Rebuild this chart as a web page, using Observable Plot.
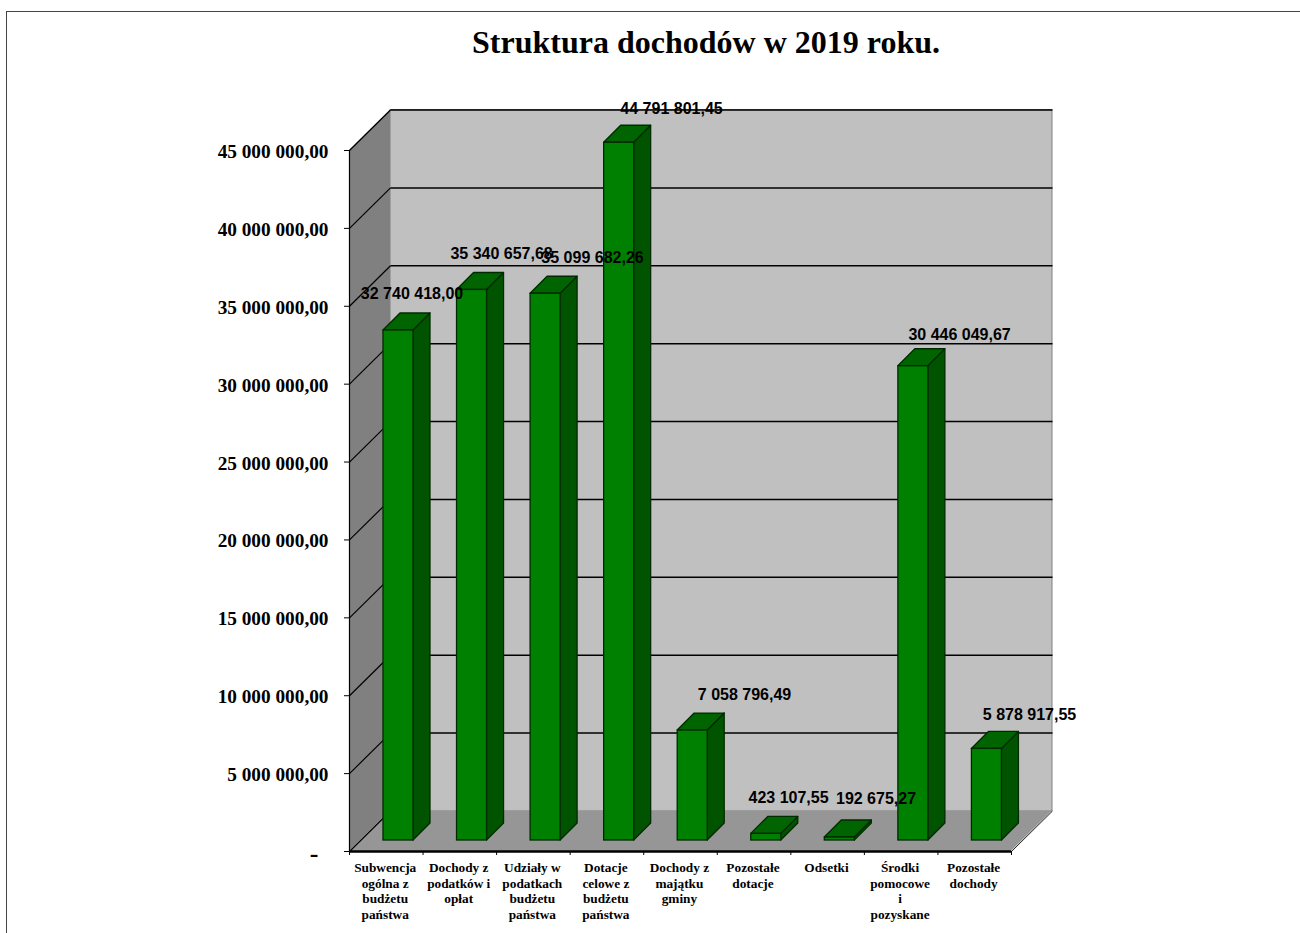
<!DOCTYPE html>
<html lang="pl">
<head>
<meta charset="utf-8">
<script src="https://cdn.jsdelivr.net/npm/d3@7"></script>
<script src="https://cdn.jsdelivr.net/npm/@observablehq/plot@0.6"></script>
<style>
html,body{margin:0;padding:0;background:#fff;width:1300px;height:933px;overflow:hidden}
#frame{position:absolute;left:6px;top:11px;right:-5px;bottom:-5px;border:1.5px solid #444;pointer-events:none}
#title{height:70px;box-sizing:border-box;padding-left:112px;padding-top:22px;text-align:center;font:bold 32px/40px "Liberation Serif",serif;color:#000;white-space:nowrap}
#chart svg{display:block}
</style>
</head>
<body>
<div id="frame"></div>
<div id="title">Struktura dochodów w 2019 roku.</div>
<div id="chart"></div>
<script>
// Chart data
const categories = [
  "Subwencja\nogólna z\nbudżetu\npaństwa",
  "Dochody z\npodatków i\nopłat",
  "Udziały w\npodatkach\nbudżetu\npaństwa",
  "Dotacje\ncelowe z\nbudżetu\npaństwa",
  "Dochody z\nmajątku\ngminy",
  "Pozostałe\ndotacje",
  "Odsetki",
  "Środki\npomocowe\ni\npozyskane",
  "Pozostałe\ndochody"
];
const values = [32740418.00, 35340657.68, 35099682.26, 44791801.45, 7058796.49, 423107.55, 192675.27, 30446049.67, 5878917.55];
const yTicks = [0, 5e6, 10e6, 15e6, 20e6, 25e6, 30e6, 35e6, 40e6, 45e6];

// Hand-placed data label offsets, in scale units (category widths, value units)
const labelShiftX = [0.85, 1.067, 1.304, 1.378, 1.37, 0.969, 1.158, 1.294, 1.245];
const labelLift = [3.08e6, 3.04e6, 3.03e6, 2.85e6, 3.02e6, 3.04e6, 3.21e6, 2.73e6, 2.91e6];

// 3D projection, in scale units
const wallX = 0.5575, wallY = 2.6e6;
const barLeft = 0.462, barW = 0.408, barBase = 0.706e6, barDepthX = 0.231, barDepthY = 1.09e6;

const fmt = d3.formatLocale({decimal: ",", thousands: " ", grouping: [3]}).format(",.2f");
const idx = d3.range(categories.length);
const n = categories.length;

// A closed parallelogram is drawn as an area between two edges
const backWall = [{x1: wallX, y1: wallY, x2: n + wallX, y2: wallY}, {x1: wallX, y1: 45e6 + wallY, x2: n + wallX, y2: 45e6 + wallY}];
const leftWall = [{x1: 0, y1: 0, x2: 0, y2: 45e6}, {x1: wallX, y1: wallY, x2: wallX, y2: 45e6 + wallY}];
const floor = [{x1: 0, y1: 0, x2: n, y2: 0}, {x1: wallX, y1: wallY, x2: n + wallX, y2: wallY}];
const areaOpts = {x1: "x1", y1: "y1", x2: "x2", y2: "y2"};

const sides = idx.flatMap((i) => {
  const x = i + barLeft + barW, top = values[i] + barBase;
  return [
    {i, x1: x, y1: barBase, x2: x, y2: top},
    {i, x1: x + barDepthX, y1: barBase + barDepthY, x2: x + barDepthX, y2: top + barDepthY}
  ];
});
const tops = idx.flatMap((i) => {
  const x = i + barLeft, top = values[i] + barBase;
  return [
    {i, x1: x, y1: top, x2: x + barW, y2: top},
    {i, x1: x + barDepthX, y1: top + barDepthY, x2: x + barW + barDepthX, y2: top + barDepthY}
  ];
});
const grid = yTicks.filter((d) => d > 0);
const barStroke = "#002a00";

const serif = "Liberation Serif";
const chart = Plot.plot({
  width: 1300,
  height: 863,
  marginLeft: 349,
  marginRight: 289,
  marginTop: 80,
  marginBottom: 82,
  style: {background: "#fff", color: "#000"},
  x: {type: "linear", domain: [0, n], axis: null},
  y: {type: "linear", domain: [0, 45e6], axis: null},
  marks: [
    Plot.area(backWall, {...areaOpts, fill: "#c0c0c0", stroke: "#808080", strokeWidth: 1}),
    Plot.area(leftWall, {...areaOpts, fill: "#808080"}),
    Plot.area(floor, {...areaOpts, fill: "#969696"}),
    Plot.link(grid, {x1: wallX, x2: n + wallX, y1: (d) => d + wallY, y2: (d) => d + wallY, stroke: "#000", strokeWidth: 1.5}),
    Plot.link(yTicks, {x1: 0, x2: wallX, y1: (d) => d, y2: (d) => d + wallY, stroke: "#000", strokeWidth: 1.2}),
    Plot.link([0], {x1: n, x2: n + wallX, y1: 0, y2: wallY, stroke: "#222", strokeWidth: 1}),
    Plot.ruleX([0], {y1: 0, y2: 45e6, stroke: "#000", strokeWidth: 1.2}),
    Plot.ruleY([0], {x1: 0, x2: n, stroke: "#000", strokeWidth: 2.4}),
    Plot.area(sides, {...areaOpts, z: "i", fill: "#005400", stroke: barStroke, strokeWidth: 1.3}),
    Plot.area(tops, {...areaOpts, z: "i", fill: "#006400", stroke: barStroke, strokeWidth: 1.3}),
    Plot.rect(idx, {
      x1: (i) => i + barLeft,
      x2: (i) => i + barLeft + barW,
      y1: barBase,
      y2: (i) => values[i] + barBase,
      fill: "#008000",
      stroke: barStroke,
      strokeWidth: 1.3
    }),
    Plot.axisY({
      ticks: yTicks,
      tickSize: 5,
      tickPadding: 16,
      tickFormat: (d) => (d === 0 ? "" : fmt(d)),
      label: null,
      fontFamily: serif,
      fontWeight: "bold",
      fontSize: 19.3,
      textStroke: "none",
      stroke: "#000"
    }),
    Plot.text([0], {
      x: 0,
      y: 0,
      text: () => "-",
      dx: -31,
      dy: 2,
      textAnchor: "end",
      fontFamily: serif,
      fontWeight: "bold",
      fontSize: 26,
      fill: "#000"
    }),
    Plot.axisX({ticks: d3.range(n + 1), tickSize: 4, tickFormat: () => "", label: null}),
    Plot.text(idx, {
      x: (i) => i + 0.485,
      y: 0,
      text: (i) => categories[i],
      dy: 10,
      lineAnchor: "top",
      textAnchor: "middle",
      lineHeight: 1.16,
      fontFamily: serif,
      fontWeight: "bold",
      fontSize: 13.3,
      fill: "#000"
    }),
    Plot.text(idx, {
      x: (i) => i + labelShiftX[i],
      y: (i) => values[i] + labelLift[i],
      text: (i) => fmt(values[i]),
      textAnchor: "middle",
      fontFamily: "Liberation Sans",
      fontWeight: "bold",
      fontSize: 16,
      fill: "#000"
    })
  ]
});
// Axis tick labels sit one pixel below their ticks in the reference
chart.querySelectorAll('[aria-label="y-axis tick label"] text').forEach((t) => t.setAttribute("dy", "1.3"));
document.getElementById("chart").appendChild(chart);
</script>
</body>
</html>
